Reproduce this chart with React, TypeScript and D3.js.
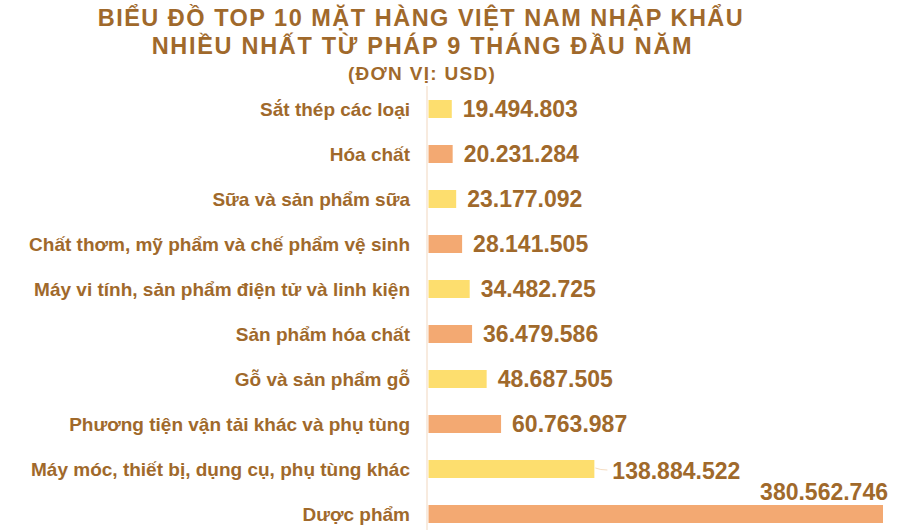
import React from "react";
import * as d3 from "d3";

const categories = [
  "Sắt thép các loại",
  "Hóa chất",
  "Sữa và sản phẩm sữa",
  "Chất thơm, mỹ phẩm và chế phẩm vệ sinh",
  "Máy vi tính, sản phẩm điện tử và linh kiện",
  "Sản phẩm hóa chất",
  "Gỗ và sản phẩm gỗ",
  "Phương tiện vận tải khác và phụ tùng",
  "Máy móc, thiết bị, dụng cụ, phụ tùng khác",
  "Dược phẩm",
];
const values = [
  19494803, 20231284, 23177092, 28141505, 34482725, 36479586, 48687505,
  60763987, 138884522, 380562746,
];
const titleLines = [
  "BIỂU ĐỒ TOP 10 MẶT HÀNG VIỆT NAM NHẬP KHẨU",
  "NHIỀU NHẤT TỪ PHÁP 9 THÁNG ĐẦU NĂM",
  "(ĐƠN VỊ: USD)",
];
const barColors = ["#FDDE6E", "#F3A972"];

const W = 898;
const H = 530;
const TEXT = "#A0692B";
const FONT = "'Liberation Sans', Arial, Helvetica, sans-serif";

const fmt = (v: number) => d3.format(",")(v).replace(/,/g, ".");

export default function App() {
  const x = d3.scaleLinear().domain([0, d3.max(values) as number]).range([428.5, 883]);
  const y = d3
    .scaleBand<string>()
    .domain(categories)
    .range([86.5, 536.5])
    .paddingInner(0.6)
    .paddingOuter(0.3);
  const bw = y.bandwidth();
  const n = categories.length;

  return (
    <svg
      width={W}
      height={H}
      style={{ position: "absolute", left: 0, top: 0, background: "#fff" }}
      fontFamily={FONT}
      fontWeight="bold"
    >
      <text x={421} y={26} textAnchor="middle" fontSize={23.5} letterSpacing={1.5} fill={TEXT}>
        {titleLines[0]}
      </text>
      <text x={422.5} y={54.3} textAnchor="middle" fontSize={23.5} letterSpacing={1.7} fill={TEXT}>
        {titleLines[1]}
      </text>
      <text x={422} y={80} textAnchor="middle" fontSize={19} letterSpacing={1.3} fill={TEXT}>
        {titleLines[2]}
      </text>

      <line x1={427} x2={427} y1={86} y2={H} stroke="#F8EBDF" strokeWidth={2} />

      {categories.map((c, i) => {
        const yc = (y(c) as number) + bw / 2;
        const x1 = x(values[i]);
        const isLast = i === n - 1;
        const isLeader = i === n - 2;
        return (
          <g key={c}>
            <text x={410} y={yc} dy="0.35em" textAnchor="end" fontSize={19} fill={TEXT}>
              {c}
            </text>
            <rect
              x={x(0)}
              y={y(c) as number}
              width={x1 - x(0)}
              height={bw}
              fill={barColors[i % 2]}
            />
            {isLeader && (
              <path
                d={`M${x1 + 1},${yc - 1} Q${x1 + 6},${yc + 1} ${x1 + 13},${yc + 1}`}
                fill="none"
                stroke="#F5DCC0"
                strokeWidth={1}
              />
            )}
            {isLast ? (
              <text x={x1 + 5} y={(y(c) as number) - 5} textAnchor="end" fontSize={23} fill={TEXT}>
                {fmt(values[i])}
              </text>
            ) : (
              <text
                x={x1 + (isLeader ? 18 : 11)}
                y={yc + (isLeader ? 2 : 0)}
                dy="0.35em"
                textAnchor="start"
                fontSize={23}
                fill={TEXT}
              >
                {fmt(values[i])}
              </text>
            )}
          </g>
        );
      })}
    </svg>
  );
}
